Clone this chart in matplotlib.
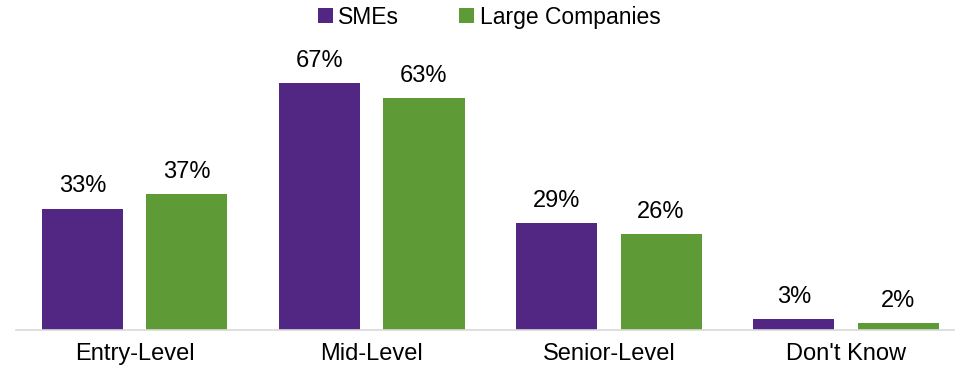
import numpy as np
from matplotlib import pyplot as plt

categories = ["Entry-Level", "Mid-Level", "Senior-Level", "Don't Know"]
smes = [33, 67, 29, 3]
large = [37, 63, 26, 2]
series_names = ["SMEs", "Large Companies"]

purple = "#522683"
green = "#5E9A35"

plt.rcParams['font.family'] = ['Liberation Sans', 'DejaVu Sans']

fig = plt.figure(figsize=(9.55, 3.73), dpi=100)
ax = fig.add_axes([0.017, 0.115, 0.983, 0.78])

x = np.arange(len(categories))
w = 0.342
off = 0.22
b1 = ax.bar(x - off, smes, w, color=purple, label=series_names[0])
b2 = ax.bar(x + off, large, w, color=green, label=series_names[1])

for bars, vals in ((b1, smes), (b2, large)):
    for rect, v in zip(bars, vals):
        ax.annotate(f"{v}%", (rect.get_x() + rect.get_width() / 2, v),
                    xytext=(0, 8), textcoords="offset points",
                    ha="center", va="bottom", fontsize=17)

ax.set_xlim(-0.5, 3.46)
ax.set_ylim(0, 79)
ax.set_xticks(x)
ax.set_xticklabels(categories, fontsize=17)
ax.tick_params(axis="x", length=0, pad=9)
ax.set_yticks([])
for s in ("top", "right", "left"):
    ax.spines[s].set_visible(False)
ax.spines["bottom"].set_color("#d9d9d9")
ax.spines["bottom"].set_linewidth(1.2)

fig.legend(loc="upper center", bbox_to_anchor=(0.512, 1.04), ncol=2,
           frameon=False, fontsize=16.5, handlelength=0.65, handleheight=0.65,
           handletextpad=0.25, columnspacing=2.6)

fig.savefig("out.png", dpi=100)
